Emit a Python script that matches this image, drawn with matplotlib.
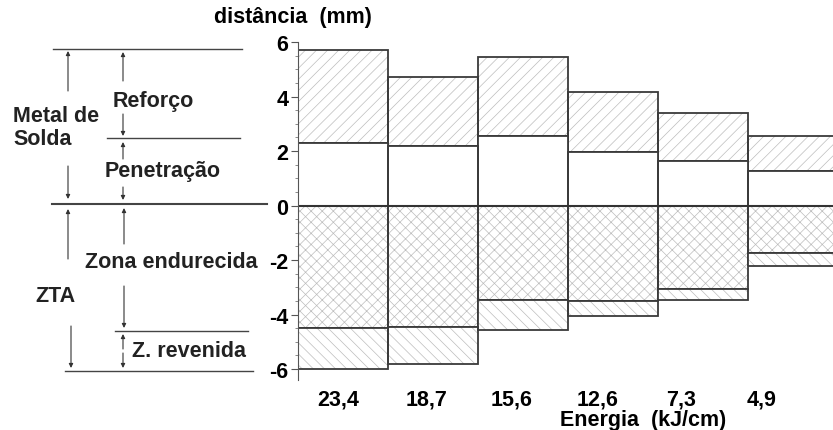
import matplotlib
matplotlib.use('Agg')
import matplotlib.pyplot as plt
from matplotlib.ticker import MultipleLocator

# energia de soldagem (kJ/cm) e limites de cada zona (mm)
energia = ['23,4', '18,7', '15,6', '12,6', '7,3', '4,9']
reforco_topo = [5.70, 4.70, 5.45, 4.15, 3.40, 2.55]
penetracao = [2.30, 2.20, 2.55, 1.95, 1.65, 1.25]
zona_endurecida = [-4.50, -4.45, -3.45, -3.50, -3.05, -1.75]
zona_revenida = [-6.00, -5.80, -4.55, -4.05, -3.45, -2.20]

W, H = 833, 431
plt.rcParams['font.family'] = ['Liberation Sans', 'DejaVu Sans']
plt.rcParams['font.weight'] = 'bold'
plt.rcParams['hatch.linewidth'] = 0.5

fig = plt.figure(figsize=(W / 100, H / 100), dpi=100)
ax = fig.add_axes([298 / W, 1 - 381 / H, 1 - 298 / W, (381 - 43) / H])

x = list(range(len(energia)))
segs = [
	(penetracao, [t - p for t, p in zip(reforco_topo, penetracao)], '///'),
	([0] * len(x), penetracao, None),
	(zona_endurecida, [-z for z in zona_endurecida], 'xxx'),
	(zona_revenida, [e - r for e, r in zip(zona_endurecida, zona_revenida)], '\\\\\\'),
]
for bottom, height, hatch in segs:
	ax.bar(x, height, bottom=bottom, width=1.0, color='white', edgecolor='#bdbdbd',
		linewidth=0, hatch=hatch)
	ax.bar(x, height, bottom=bottom, width=1.0, fill=False, edgecolor='#3a3a3a', linewidth=1.3)
ax.axhline(0, color='#333333', lw=1.5)

ax.set_xlim(-0.5, -0.5 + (W - 298) / 90)
ax.set_ylim(-6.4, 6.0)
for s in ['top', 'right', 'bottom']:
	ax.spines[s].set_visible(False)
ax.spines['left'].set_color('#555555')
ax.yaxis.set_major_locator(MultipleLocator(2))
ax.yaxis.set_minor_locator(MultipleLocator(0.5))
ax.tick_params(axis='y', which='major', length=5, width=0.8, pad=2, labelsize=15.5, color='#555555')
ax.tick_params(axis='y', which='minor', length=2, width=0.6, color='#777777')
ax.set_yticks([6, 4, 2, 0, -2, -4, -6])
ax.set_yticklabels(['6', '4', '2', '0', '-2', '-4', '-6'], fontweight='bold')

# rótulos de energia ligeiramente deslocados como no original
label_pos = [-0.05, 0.93, 1.87, 2.83, 3.76, 4.65]
ax.set_xticks(label_pos)
ax.set_xticklabels(energia, fontsize=15.5, fontweight='bold')
ax.tick_params(axis='x', length=0, pad=6)

def P(px, py):
	return (px / W, 1 - py / H)

fig.text(*P(293, 17), 'distância  (mm)', ha='center', va='center', fontsize=15.5, fontweight='bold')
fig.text(*P(643, 421), 'Energia  (kJ/cm)', ha='center', va='center', fontsize=15.5, fontweight='bold')

# esquema à esquerda
for x0, x1, yy in [(53, 242, 50), (107, 240, 139), (52, 267, 205), (115, 248, 332), (65, 253, 372)]:
	a, b = P(x0, yy), P(x1, yy)
	fig.add_artist(plt.Line2D([a[0], b[0]], [a[1], b[1]], transform=fig.transFigure,
		color='#444444', lw=1.0 if yy != 205 else 1.5))

arrows = [
	(68, 92, 52), (68, 167, 200), (68, 260, 210), (71, 327, 369),
	(123, 82, 53), (123, 115, 137), (123, 160, 143), (123, 188, 201),
	(124, 245, 209), (124, 287, 329), (123, 350, 335), (123, 354, 369),
]
for ax_x, y0, y1 in arrows:
	ax.annotate('', xy=P(ax_x, y1), xytext=P(ax_x, y0), xycoords='figure fraction',
		textcoords='figure fraction',
		arrowprops=dict(arrowstyle='-|>', color='#333333', lw=0.8, mutation_scale=6,
			shrinkA=0, shrinkB=0))

for tx, ty, s in [(13, 117, 'Metal de'), (13, 140, 'Solda'), (113, 102, 'Reforço'),
		(105, 172, 'Penetração'), (85, 263, 'Zona endurecida'), (35, 297, 'ZTA'),
		(132, 352, 'Z. revenida')]:
	fig.text(*P(tx, ty), s, ha='left', va='center', fontsize=15.5, fontweight='bold', color='#222222')

fig.savefig('out.png', dpi=100)
